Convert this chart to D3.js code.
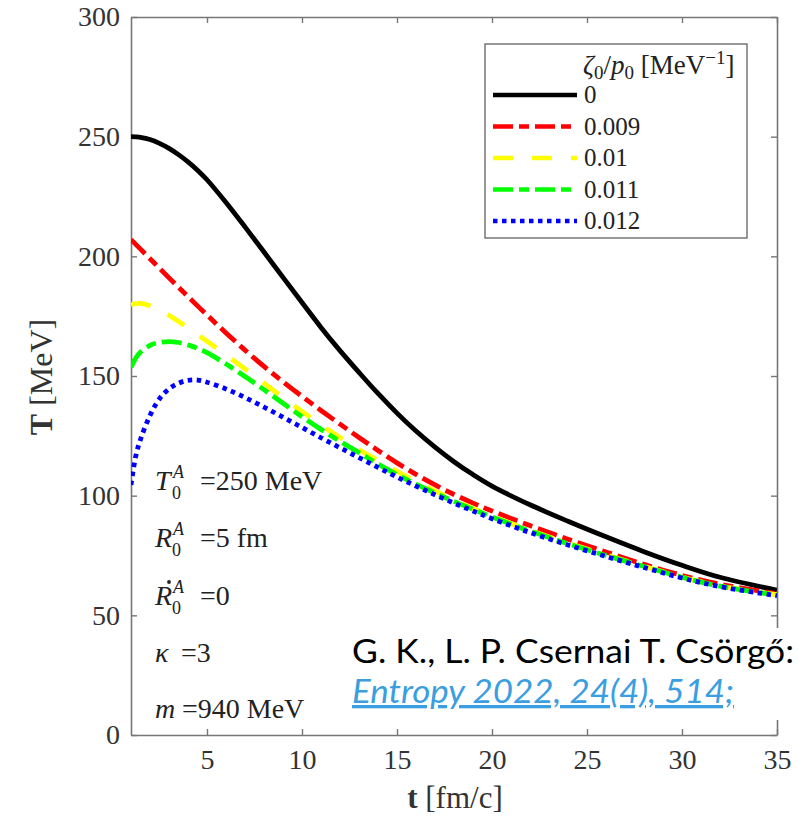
<!DOCTYPE html>
<html>
<head>
<meta charset="utf-8">
<script src="https://cdnjs.cloudflare.com/ajax/libs/d3/7.8.5/d3.min.js"></script>
<style>
body { margin: 0; background: #fff; }
</style>
</head>
<body>
<div id="chart"></div>
<script>
// time grid (fm/c) and temperature curves (MeV)
var tVals = [1, 1.25, 1.5, 2, 2.5, 3, 3.5, 4, 4.5, 5, 6, 7, 8, 9, 10, 11, 12, 13, 14, 15, 16, 17, 18, 19, 20, 22, 24, 26, 28, 30, 32, 35];
var T_0    = [250, 249.9, 249.7, 248.8, 247.2, 245.1, 242.5, 239.5, 236, 232, 222.5, 212.3, 201.8, 191.2, 180.7, 170.3, 160.6, 151.5, 142.7, 134.5, 127, 120.3, 114.2, 108.8, 104, 96.2, 89.3, 82.8, 76.6, 70.9, 65.9, 60.5];
var T_0009 = [207, 205, 203, 199, 195, 191, 187.1, 183.2, 179.3, 175.5, 168, 160.8, 154, 147.6, 141.5, 135.6, 129.9, 124.3, 118.9, 113.7, 108.9, 104.5, 100.5, 96.9, 93.6, 87.5, 81.8, 76.5, 71.3, 66.7, 63, 59];
var T_001  = [179.8, 180.2, 180.3, 179.3, 177.6, 175.4, 172.8, 170.1, 167.3, 164.5, 158.8, 153, 147, 141, 135.2, 129.6, 124.3, 119.3, 114.7, 110.2, 106, 102, 98.2, 94.7, 91.4, 85.5, 80.2, 75.3, 70.5, 66, 62.3, 58.6];
var T_0011 = [153.6, 157.5, 160, 162.8, 164, 164.4, 164, 163, 161.6, 159.8, 155, 149.8, 144.3, 138.6, 133, 127.7, 122.7, 118, 113.2, 108.8, 104.8, 101.1, 97.6, 94.3, 91.1, 85.2, 79.9, 75, 70.4, 65.9, 62.2, 58.4];
var T_0012 = [104.5, 116.5, 123.5, 133.5, 140.5, 144.6, 147, 148.2, 148.3, 147.4, 144.6, 141, 137, 132.8, 128.5, 124.2, 120, 115.9, 111.8, 107.8, 104, 100.4, 96.9, 93.6, 90.4, 84.6, 79.4, 74.6, 70, 65.6, 62, 58.2];
var zetaLabels = ["0", "0.009", "0.01", "0.011", "0.012"];
var xTicks = [5, 10, 15, 20, 25, 30, 35];
var yTicks = [0, 50, 100, 150, 200, 250, 300];

var series = [T_0, T_0009, T_001, T_0011, T_0012];
var colors = ["#000000", "#ff0000", "#ffff00", "#00ff00", "#0000ff"];
var dashes = [null, "20,6,10,6", "20,19", "20,6,10,6", "4.5,4.5"];

var w = 808, h = 820;
var serif = "'Liberation Serif', 'DejaVu Serif', serif";
var axisGray = "#777";

var svg = d3.select("#chart").append("svg")
  .attr("width", w)
  .attr("height", h);

var x = d3.scaleLinear().domain([1, 35]).range([131, 777]);
var y = d3.scaleLinear().domain([0, 300]).range([735, 17]);

// axes, ticks pointing inward, box round the plot
function styleAxis(g) {
  g.selectAll("path.domain").attr("stroke", axisGray).attr("stroke-width", 1.6);
  g.selectAll(".tick line").attr("stroke", axisGray).attr("stroke-width", 1.4);
  g.selectAll(".tick text").attr("fill", "#333").style("font-family", serif).style("font-size", "28px");
}

svg.append("g")
  .attr("transform", "translate(" + x.range()[0] + ",0)")
  .call(d3.axisLeft(y).tickValues(yTicks).tickSizeInner(-6).tickSizeOuter(0).tickPadding(11))
  .call(styleAxis);

svg.append("g")
  .attr("transform", "translate(0," + y.range()[0] + ")")
  .call(d3.axisBottom(x).tickValues(xTicks).tickSizeInner(-6).tickSizeOuter(0).tickPadding(14))
  .call(styleAxis);

svg.append("g")
  .attr("transform", "translate(" + x.range()[1] + ",0)")
  .call(d3.axisRight(y).tickValues(yTicks).tickSizeInner(-6).tickSizeOuter(0).tickFormat(""))
  .call(styleAxis);

svg.append("g")
  .attr("transform", "translate(0," + y.range()[1] + ")")
  .call(d3.axisTop(x).tickValues(xTicks).tickSizeInner(-6).tickSizeOuter(0).tickFormat(""))
  .call(styleAxis);

// axis titles
svg.append("text")
  .attr("transform", "translate(52,377) rotate(-90)")
  .attr("text-anchor", "middle")
  .attr("fill", "#333")
  .style("font-family", serif)
  .style("font-size", "32px")
  .html("<tspan font-weight='bold'>T</tspan> [MeV]");

svg.append("text")
  .attr("x", 455)
  .attr("y", 808)
  .attr("text-anchor", "middle")
  .attr("fill", "#333")
  .style("font-family", serif)
  .style("font-size", "31px")
  .html("<tspan font-weight='bold'>t</tspan> [fm/c]");

// curves
svg.append("clipPath").attr("id", "plotclip")
  .append("rect")
  .attr("x", x.range()[0]).attr("y", y.range()[1])
  .attr("width", x.range()[1] - x.range()[0])
  .attr("height", y.range()[0] - y.range()[1]);

var line = d3.line()
  .x(function(d) { return x(d[0]); })
  .y(function(d) { return y(d[1]); })
  .curve(d3.curveCatmullRom.alpha(0.5));

svg.append("g").attr("clip-path", "url(#plotclip)")
  .selectAll("path")
  .data(series)
  .enter()
  .append("path")
  .attr("d", function(vals) { return line(tVals.map(function(t, i) { return [t, vals[i]]; })); })
  .attr("fill", "none")
  .attr("stroke", function(d, i) { return colors[i]; })
  .attr("stroke-width", 4.8)
  .attr("stroke-dasharray", function(d, i) { return dashes[i]; });

// parameter annotations
var ann = svg.append("g")
  .attr("fill", "#222")
  .style("font-family", serif)
  .style("font-size", "28px");

function scripted(yPos, base, sup, rest, restX) {
  var t = ann.append("text").attr("y", yPos);
  t.append("tspan").attr("x", 155).style("font-style", "italic").text(base);
  if (sup) {
    t.append("tspan").attr("x", 173).attr("dy", -12).style("font-size", "18px").style("font-style", "italic").text(sup);
    t.append("tspan").attr("x", 172).attr("dy", 21).style("font-size", "18px").text("0");
    t.append("tspan").attr("x", restX).attr("dy", -9).text(rest);
  } else {
    t.append("tspan").attr("x", restX).text(rest);
  }
}
scripted(490, "T", "A", "=250 MeV", 200);
scripted(547, "R", "A", "=5 fm", 200);
scripted(605, "R", "A", "=0", 200);
ann.append("circle").attr("cx", 169).attr("cy", 582).attr("r", 1.9);
scripted(662, "\u03BA", null, "=3", 181);
scripted(718, "m", null, "=940 MeV", 182);

// legend
var lg = svg.append("g");
lg.append("rect")
  .attr("x", 485).attr("y", 44)
  .attr("width", 262).attr("height", 194)
  .attr("fill", "#fff")
  .attr("stroke", axisGray)
  .attr("stroke-width", 1.5);

var head = lg.append("text")
  .attr("x", 583).attr("y", 74)
  .attr("fill", "#222")
  .style("font-family", serif)
  .style("font-size", "27px");
head.append("tspan").style("font-style", "italic").text("\u03B6");
head.append("tspan").attr("dy", 5).style("font-size", "19px").text("0");
head.append("tspan").attr("dy", -5).text("/");
head.append("tspan").style("font-style", "italic").text("p");
head.append("tspan").attr("dy", 5).style("font-size", "19px").text("0");
head.append("tspan").attr("dy", -5).text(" [MeV");
head.append("tspan").attr("dy", -10).style("font-size", "19px").text("\u22121");
head.append("tspan").attr("dy", 10).text("]");

var legY = d3.scalePoint().domain(zetaLabels).range([95, 221]);

lg.selectAll("line.key")
  .data(zetaLabels)
  .enter()
  .append("line")
  .attr("class", "key")
  .attr("x1", 493).attr("x2", 577)
  .attr("y1", function(d) { return legY(d); })
  .attr("y2", function(d) { return legY(d); })
  .attr("stroke", function(d, i) { return colors[i]; })
  .attr("stroke-width", 4.6)
  .attr("stroke-dasharray", function(d, i) { return dashes[i]; });

lg.selectAll("text.key")
  .data(zetaLabels)
  .enter()
  .append("text")
  .attr("class", "key")
  .attr("x", 584)
  .attr("y", function(d) { return legY(d) + 8; })
  .attr("fill", "#222")
  .style("font-family", serif)
  .style("font-size", "25px")
  .text(function(d) { return d; });

// citation box over the lower right corner
svg.append("rect")
  .attr("x", 345).attr("y", 628)
  .attr("width", 455).attr("height", 92)
  .attr("fill", "#fff");

svg.append("text")
  .attr("x", 352).attr("y", 663)
  .attr("textLength", 442)
  .attr("lengthAdjust", "spacingAndGlyphs")
  .attr("fill", "#000")
  .style("font-family", "Lato, 'Open Sans', sans-serif")
  .style("font-size", "33px")
  .text("G. K., L. P. Csernai T. Cs\u00F6rg\u0151:");

svg.append("text")
  .attr("x", 352).attr("y", 703)
  .attr("textLength", 382)
  .attr("lengthAdjust", "spacingAndGlyphs")
  .attr("fill", "#3a9ee0")
  .style("font-family", "Lato, 'Open Sans', sans-serif")
  .style("font-size", "33px")
  .style("font-style", "italic")
  .style("text-decoration", "underline")
  .text("Entropy 2022, 24(4), 514;");
</script>
</body>
</html>
